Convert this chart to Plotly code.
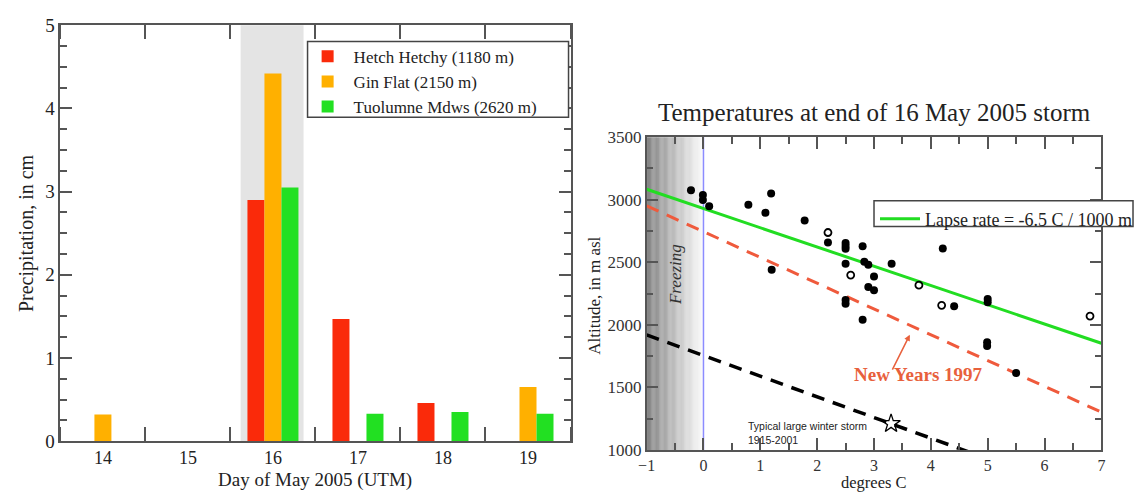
import plotly.graph_objects as go

# ---------------- data: left chart (precipitation) ----------------
days = [14, 15, 16, 17, 18, 19]
day_labels = ["14", "15", "16", "17", "18", "19"]
hetch_hetchy = [None, None, 2.90, 1.47, 0.46, None]
gin_flat = [0.32, None, 4.42, None, None, 0.65]
tuolumne = [None, None, 3.05, 0.33, 0.35, 0.33]
storm_band = [15.62, 16.36]

# ---------------- data: right chart (temperatures) ----------------
filled_T = [-0.22, -0.01, -0.01, 0.10, 0.79, 1.09, 1.19, 1.20, 1.78, 2.19,
            2.50, 2.50, 2.50, 2.80, 2.50, 2.83, 2.90, 3.31, 3.00, 2.90,
            3.00, 2.50, 2.50, 2.80, 4.21, 4.41, 5.00, 5.00, 4.99, 4.99, 5.50]
filled_alt = [3075, 3037, 2998, 2947, 2960, 2896, 3049, 2440, 2834, 2658,
              2655, 2630, 2608, 2628, 2488, 2505, 2480, 2488, 2386, 2302,
              2276, 2199, 2168, 2041, 2610, 2148, 2207, 2181, 1862, 1832, 1615]
open_T = [2.19, 2.59, 3.79, 4.19, 6.80]
open_alt = [2738, 2398, 2317, 2156, 2070]
lapse_T = [-1, 7]
lapse_alt = [3084, 1853]
newyears_T = [-1, 7]
newyears_alt = [2951, 1303]
typical_T = [-1, 7]
typical_alt = [1920, 600]
star_T = [3.30]
star_alt = [1211]
freezing_zone = [-1, 0]

SERIF = "Liberation Serif"
AX = "#555555"
W, H = 1138, 501

def px_x(p):
    return p / W

def px_y(p):
    return 1 - p / H

fig = go.Figure()

# ---- left chart bars ----
fig.add_trace(go.Bar(x=days, y=hetch_hetchy, name="Hetch Hetchy (1180 m)",
                     marker=dict(color="#fa2a0a", line=dict(width=0)),
                     xaxis="x", yaxis="y", legend="legend"))
fig.add_trace(go.Bar(x=days, y=gin_flat, name="Gin Flat (2150 m)",
                     marker=dict(color="#ffb000", line=dict(width=0)),
                     xaxis="x", yaxis="y", legend="legend"))
fig.add_trace(go.Bar(x=days, y=tuolumne, name="Tuolumne Mdws (2620 m)",
                     marker=dict(color="#22e022", line=dict(width=0)),
                     xaxis="x", yaxis="y", legend="legend"))

# ---- right chart lines and points ----
fig.add_trace(go.Scatter(x=typical_T, y=typical_alt, mode="lines",
                         line=dict(color="black", width=3.5, dash="13px,9px"),
                         xaxis="x2", yaxis="y2", showlegend=False))
fig.add_trace(go.Scatter(x=newyears_T, y=newyears_alt, mode="lines",
                         line=dict(color="#ef5a3c", width=3, dash="13px,9px"),
                         xaxis="x2", yaxis="y2", showlegend=False))
fig.add_trace(go.Scatter(x=lapse_T, y=lapse_alt, mode="lines",
                         name="Lapse rate = -6.5 C / 1000 m",
                         line=dict(color="#22dd22", width=3),
                         xaxis="x2", yaxis="y2", legend="legend2"))
fig.add_trace(go.Scatter(x=filled_T, y=filled_alt, mode="markers",
                         marker=dict(color="black", size=8, symbol="circle"),
                         xaxis="x2", yaxis="y2", showlegend=False))
fig.add_trace(go.Scatter(x=open_T, y=open_alt, mode="markers",
                         marker=dict(color="black", size=7, symbol="circle-open",
                                     line=dict(width=1.8)),
                         xaxis="x2", yaxis="y2", showlegend=False))
fig.add_trace(go.Scatter(x=star_T, y=star_alt, mode="markers",
                         marker=dict(color="black", size=14, symbol="star-open",
                                     line=dict(width=1.3)),
                         xaxis="x2", yaxis="y2", showlegend=False))

shapes = []
# storm band on the left chart
shapes.append(dict(type="rect", xref="x", yref="y domain", x0=storm_band[0], x1=storm_band[1],
                   y0=0, y1=1, fillcolor="#e4e4e4", line=dict(width=0), layer="below"))
# freezing gradient on right chart
N = 50
for i in range(N):
    x0 = freezing_zone[0] + (freezing_zone[1] - freezing_zone[0]) * i / N
    x1 = freezing_zone[0] + (freezing_zone[1] - freezing_zone[0]) * (i + 1) / N
    g = int(130 + (252 - 130) * i / (N - 1))
    shapes.append(dict(type="rect", xref="x2", yref="y2 domain", x0=x0, x1=x1 + 0.003,
                       y0=0, y1=1, fillcolor=f"rgb({g},{g},{g})",
                       line=dict(width=0), layer="below"))
# zero line
shapes.append(dict(type="line", xref="x2", yref="y2 domain", x0=0, x1=0, y0=0, y1=1,
                   line=dict(color="#8c8cff", width=1.5), layer="below"))
# legend boxes
shapes.append(dict(type="rect", xref="paper", yref="paper",
                   x0=px_x(302), x1=px_x(566), y0=px_y(112), y1=px_y(33),
                   fillcolor="white", line=dict(color="#444", width=1.5), layer="above"))
shapes.append(dict(type="rect", xref="paper", yref="paper",
                   x0=px_x(875), x1=px_x(1137), y0=px_y(226), y1=px_y(199),
                   fillcolor="white", line=dict(color="#444", width=1.5), layer="above"))

def ptext(text, x, y, size, angle=0, color="#222", family=SERIF):
    return dict(text=text, xref="paper", yref="paper", x=px_x(x), y=px_y(y),
                xanchor="center", yanchor="middle", textangle=angle, showarrow=False,
                font=dict(family=family, size=size, color=color))

annotations = [
    ptext("Precipitation, in cm", 17, 233, 20, angle=-90),
    ptext("Day of May 2005 (UTM)", 310, 491, 19),
    ptext("Temperatures at end of 16 May 2005 storm", 875, 107, 25),
    ptext("Altitude, in m asl", 592, 298, 17, angle=-90),
    ptext("degrees C", 875, 493, 16.5),
    dict(text="<i>Freezing</i>", xref="x2", yref="y2", x=-0.48, y=2400, textangle=-90,
         xanchor="center", yanchor="middle",
         showarrow=False, font=dict(family=SERIF, size=17, color="#333")),
    dict(text="<b>New Years 1997</b>", xref="x2", yref="y2", x=3.78, y=1600,
         xanchor="center", yanchor="middle",
         showarrow=False, font=dict(family=SERIF, size=19, color="#e8603c")),
    dict(text="", xref="x2", yref="y2", x=3.63, y=1921, ax=3.31, ay=1630,
         axref="x2", ayref="y2", showarrow=True, arrowhead=2, arrowsize=0.8,
         arrowwidth=1.5, arrowcolor="#e8603c"),
    dict(text="Typical large winter storm<br>1915-2001", xref="x2", yref="y2", x=0.74, y=1135,
         xanchor="left", yanchor="middle", align="left", showarrow=False,
         font=dict(family="Liberation Sans", size=10.5, color="#222")),
]

axis_common = dict(showgrid=False, zeroline=False, showline=True, linecolor=AX, linewidth=1.5,
                   mirror="ticks", tickcolor=AX, tickwidth=1.5)

fig.update_layout(
    width=W, height=H, margin=dict(l=0, r=0, t=0, b=0),
    paper_bgcolor="white", plot_bgcolor="rgba(0,0,0,0)",
    barmode="group", bargap=0.4, bargroupgap=0,
    shapes=shapes, annotations=annotations,
    xaxis=dict(domain=[px_x(52), px_x(568)], range=[13.5, 19.5], tickmode="array",
               tickvals=days, ticktext=day_labels, ticks="",
               tickfont=dict(family=SERIF, size=18, color="#222"),
               minor=dict(tickmode="linear", tick0=14.5, dtick=1, ticks="inside", ticklen=14,
                          tickcolor=AX, tickwidth=1.5, showgrid=False),
               anchor="y", **axis_common),
    yaxis=dict(domain=[px_y(450), px_y(16)], range=[0, 5], tickmode="linear", tick0=0, dtick=1,
               ticks="inside", ticklen=12,
               tickfont=dict(family=SERIF, size=19, color="#222"),
               minor=dict(tickmode="linear", tick0=0, dtick=0.25, ticks="inside", ticklen=7,
                          tickcolor=AX, tickwidth=1.5, showgrid=False),
               anchor="x", **axis_common),
    xaxis2=dict(domain=[px_x(645), px_x(1105)], range=[-1, 7], tickmode="linear", tick0=-1,
                dtick=1, ticks="inside", ticklen=12,
                tickfont=dict(family=SERIF, size=16, color="#333"),
                minor=dict(tickmode="linear", tick0=-0.5, dtick=0.5, ticks="inside", ticklen=7,
                           tickcolor=AX, tickwidth=1.5, showgrid=False),
                anchor="y2", **axis_common),
    yaxis2=dict(domain=[px_y(459.3), px_y(132.7)], range=[1000, 3500], tickmode="linear",
                tick0=1000, dtick=500, ticks="inside", ticklen=12,
                tickfont=dict(family=SERIF, size=17, color="#333"),
                minor=dict(tickmode="linear", tick0=1000, dtick=250, ticks="inside", ticklen=7,
                           tickcolor=AX, tickwidth=1.5, showgrid=False),
                anchor="x2", **axis_common),
    legend=dict(x=px_x(296), y=px_y(30), xanchor="left", yanchor="top",
                bgcolor="rgba(0,0,0,0)", borderwidth=0, itemwidth=42,
                font=dict(family=SERIF, size=17, color="#222"), traceorder="normal"),
    legend2=dict(x=px_x(876), y=px_y(199), xanchor="left", yanchor="top",
                 bgcolor="rgba(0,0,0,0)", borderwidth=0, itemwidth=40,
                 font=dict(family=SERIF, size=18, color="#222")),
)

fig.write_html("out.html")
